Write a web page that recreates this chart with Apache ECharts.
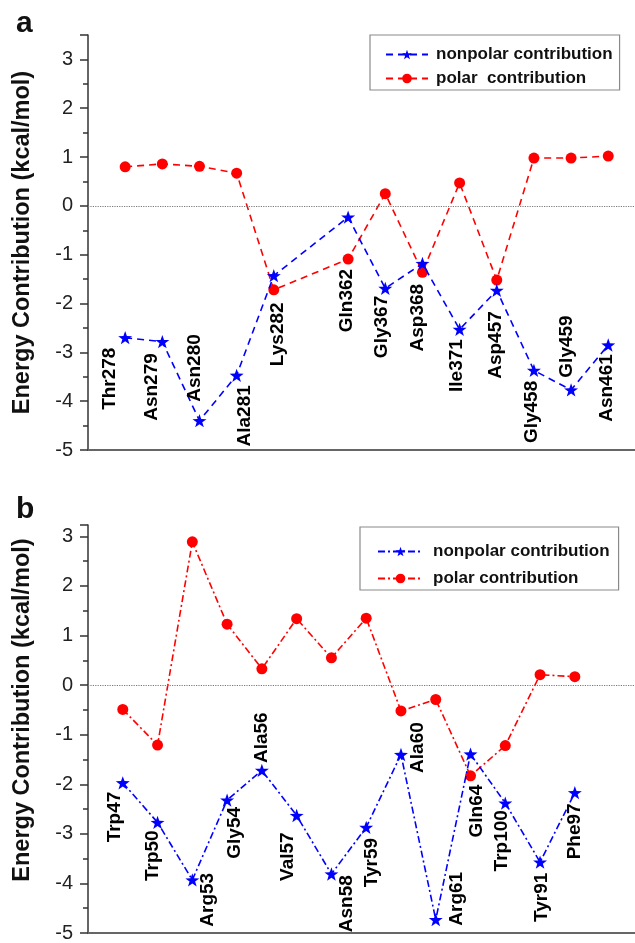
<!DOCTYPE html>
<html>
<head>
<meta charset="utf-8">
<script src="https://cdn.jsdelivr.net/npm/echarts@6/dist/echarts.min.js"></script>
<style>
  html, body { margin: 0; padding: 0; background: #ffffff; }
  #panelA { position: absolute; left: 0; top: 0; width: 635px; height: 470px; }
  #panelB { position: absolute; left: 0; top: 470px; width: 635px; height: 473px; }
</style>
</head>
<body>
<div id="panelA"></div>
<div id="panelB"></div>
<script>
// ---- Panel a: per-residue energy decomposition (kcal/mol) ----
const residuesA = ['Thr278', 'Asn279', 'Asn280', 'Ala281', 'Lys282', 'Gln362', 'Gly367',
                   'Asp368', 'Ile371', 'Asp457', 'Gly458', 'Gly459', 'Asn461'];
// slot of each residue along the x axis (slot 6 is left open)
const slotsA = [1, 2, 3, 4, 5, 7, 8, 9, 10, 11, 12, 13, 14];
const nonpolarA = [-2.70, -2.78, -4.40, -3.47, -1.43, -0.23, -1.69, -1.18, -2.53, -1.73, -3.37, -3.77, -2.85];
const polarA = [0.80, 0.86, 0.81, 0.67, -1.72, -1.09, 0.25, -1.36, 0.47, -1.52, 0.98, 0.98, 1.02];

// ---- Panel b ----
const residuesB = ['Trp47', 'Trp50', 'Arg53', 'Gly54', 'Ala56', 'Val57', 'Asn58',
                   'Tyr59', 'Ala60', 'Arg61', 'Gln64', 'Trp100', 'Tyr91', 'Phe97'];
const slotsB = [1, 2, 3, 4, 5, 6, 7, 8, 9, 10, 11, 12, 13, 14];
const nonpolarB = [-1.97, -2.77, -3.93, -2.32, -1.72, -2.63, -3.81, -2.87, -1.40, -4.73, -1.39, -2.38, -3.57, -2.17];
const polarB = [-0.49, -1.21, 2.89, 1.23, 0.33, 1.34, 0.55, 1.35, -0.52, -0.29, -1.83, -1.22, 0.21, 0.17];

// y-axis tick values shown on both panels
const yTicks = [-5, -4, -3, -2, -1, 0, 1, 2, 3];

// where each residue name is written, as [slot, energy] (layout only)
const nameSpotsA = [[0.59, -3.54], [1.72, -3.71], [2.88, -3.32], [4.23, -4.30], [5.11, -2.63],
                    [6.97, -1.94], [7.91, -2.48], [8.88, -2.29], [9.93, -3.27], [10.96, -2.85],
                    [11.95, -4.22], [12.89, -2.88], [13.97, -3.73]];
const nameSpotsB = [[0.78, -2.66], [1.87, -3.44], [3.45, -4.33], [4.23, -2.98], [5.00, -1.06],
                    [5.75, -3.46], [7.45, -4.41], [8.17, -3.58], [9.49, -1.26], [10.61, -4.31],
                    [11.19, -2.54], [11.91, -3.14], [13.06, -4.28], [14.00, -2.95]];

const FONT = '"Liberation Sans", Arial, Helvetica, sans-serif';
const STAR = 'path://M0,-10L2.35,-3.24L9.51,-3.09L3.8,1.24L5.88,8.09L0,4L-5.88,8.09L-3.8,1.24L-9.51,-3.09L-2.35,-3.24Z';

function pairs(xs, ys) { return xs.map((x, i) => [x, ys[i]]); }

function buildPanel(cfg) {
  const namePts = cfg.spots.map((p, i) => ({ value: p, name: cfg.residues[i] }));
  return {
    animation: false,
    backgroundColor: '#ffffff',
    title: {
      text: cfg.letter, left: 11, top: cfg.letterTop,
      textStyle: { fontFamily: FONT, fontSize: 30, fontWeight: 'bold', color: '#111' }
    },
    grid: { left: 88, right: 0, top: cfg.gridTop, height: cfg.gridHeight },
    legend: {
      orient: 'vertical', left: cfg.legendLeft, top: cfg.legendTop,
      padding: cfg.legendPadding, itemWidth: cfg.legendItemWidth, itemHeight: 12, itemGap: cfg.legendGap,
      borderColor: '#8a8a8a', borderWidth: 1.2,
      selectedMode: false,
      textStyle: { fontFamily: FONT, fontSize: 17, fontWeight: 'bold', color: '#111',
                   padding: [0, 0, 0, cfg.legendTextPad] },
      data: [cfg.nonpolarName, cfg.polarName]
    },
    xAxis: {
      type: 'value', min: 0, max: cfg.xMax,
      axisLine: { show: true, onZero: false, lineStyle: { color: '#666', width: 2 } },
      axisTick: { show: false }, axisLabel: { show: false }, splitLine: { show: false }
    },
    yAxis: {
      type: 'value', min: -5, max: cfg.yMax, interval: 1,
      name: 'Energy Contribution (kcal/mol)', nameLocation: 'middle', nameGap: 53,
      nameTextStyle: { fontFamily: FONT, fontSize: 23.5, fontWeight: 'bold', color: '#111',
                       padding: cfg.namePadding },
      axisLine: { show: true, lineStyle: { color: '#333', width: 1.5 } },
      axisTick: { show: true, inside: false, length: 8, lineStyle: { color: '#333', width: 1.5 } },
      minorTick: { show: true, splitNumber: 2, length: 5, lineStyle: { color: '#333', width: 1.5 } },
      splitLine: { show: false },
      axisLabel: {
        fontFamily: FONT, fontSize: 20, color: '#222', margin: 15,
        formatter: v => (yTicks.indexOf(v) >= 0 ? String(v) : '')
      }
    },
    series: [
      {
        name: cfg.nonpolarName, type: 'line', data: pairs(cfg.slots, cfg.nonpolar),
        symbol: STAR, symbolSize: 14, symbolKeepAspect: true, z: 3,
        lineStyle: { color: '#0000ff', width: 1.6, type: cfg.dash },
        itemStyle: { color: '#0000ff' }
      },
      {
        name: cfg.polarName, type: 'line', data: pairs(cfg.slots, cfg.polar),
        symbol: 'circle', symbolSize: 11, z: 2,
        lineStyle: { color: '#ff0000', width: 1.6, type: cfg.dash },
        itemStyle: { color: '#ff0000' },
        markLine: {
          silent: true, symbol: ['none', 'none'], label: { show: false },
          lineStyle: { type: 'dotted', color: '#7a7a7a', width: 1.2 },
          data: [{ yAxis: 0 }]
        }
      },
      {
        name: 'residue names', type: 'scatter', data: namePts, silent: true,
        symbolSize: 1, itemStyle: { color: 'rgba(0,0,0,0)' }, z: 5,
        label: {
          show: true, position: 'inside', rotate: 90, formatter: '{b}',
          fontFamily: FONT, fontSize: 19, fontWeight: 'bold', color: '#000',
          textBorderWidth: 0, textBorderColor: 'transparent', opacity: 1
        }
      }
    ]
  };
}

const chartA = echarts.init(document.getElementById('panelA'), null, { renderer: 'canvas' });
chartA.setOption(buildPanel({
  letter: 'a', letterTop: 4,
  gridTop: 35, gridHeight: 415, xMax: 14.72, yMax: 3.5,
  residues: residuesA, slots: slotsA, nonpolar: nonpolarA, polar: polarA, spots: nameSpotsA,
  nonpolarName: 'nonpolar contribution', polarName: 'polar  contribution',
  legendLeft: 370, legendTop: 35, legendPadding: [11, 7, 3, 15], legendGap: 7,
  legendItemWidth: 42, legendTextPad: 3,
  dash: [7, 5], namePadding: [0, 0, 0, 0]
}));

const chartB = echarts.init(document.getElementById('panelB'), null, { renderer: 'canvas' });
chartB.setOption(buildPanel({
  letter: 'b', letterTop: 20,
  gridTop: 55, gridHeight: 412, xMax: 15.73, yMax: 3.23,
  residues: residuesB, slots: slotsB, nonpolar: nonpolarB, polar: polarB, spots: nameSpotsB,
  nonpolarName: 'nonpolar contribution', polarName: 'polar contribution',
  legendLeft: 360, legendTop: 57, legendPadding: [16, 9, 3, 17], legendGap: 10,
  legendItemWidth: 45, legendTextPad: 5,
  dash: [7, 3, 2, 3], namePadding: [0, 0, 0, 38]
}));
</script>
</body>
</html>
